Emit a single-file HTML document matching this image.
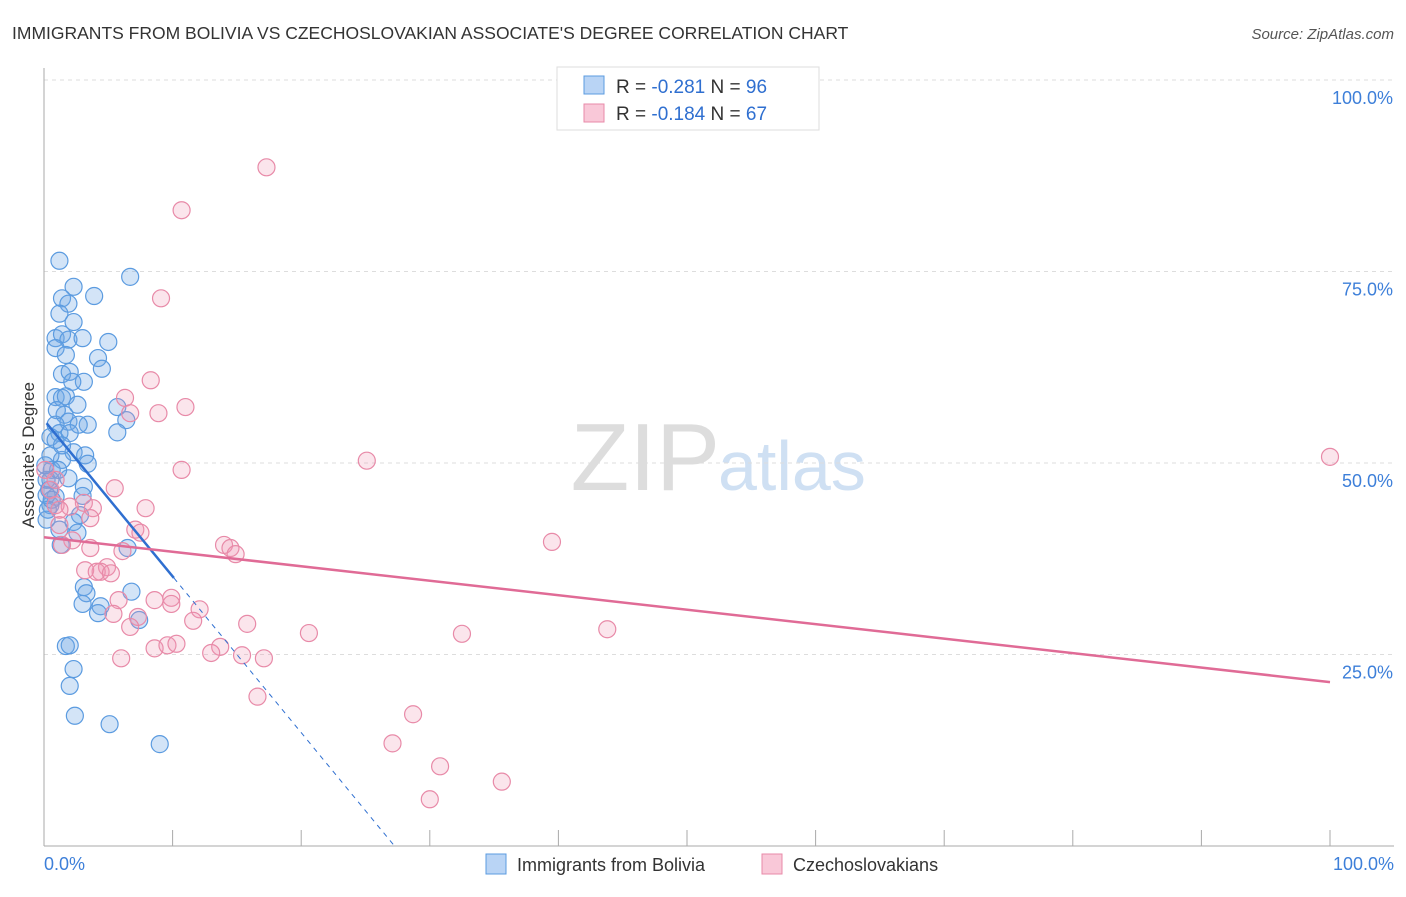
<!DOCTYPE html>
<html><head><meta charset="utf-8"><style>
body{margin:0;background:#fff;font-family:"Liberation Sans",sans-serif}
svg text{font-family:"Liberation Sans",sans-serif}
</style></head><body>
<svg id="chart" width="1406" height="892">
<text x="12" y="39" font-size="17.5" fill="#333">IMMIGRANTS FROM BOLIVIA VS CZECHOSLOVAKIAN ASSOCIATE'S DEGREE CORRELATION CHART</text>
<text x="1394" y="39" font-size="15" fill="#555" font-style="italic" text-anchor="end">Source: ZipAtlas.com</text>
<text x="720" y="490" font-size="96" fill="#ddd" text-anchor="end" font-family="Liberation Serif">ZIP</text>
<text x="718" y="490" font-size="70" fill="#cfe0f3">atlas</text>
<g id="grid"></g><g id="axes"></g><g id="pts"></g><g id="lines"></g>
<text transform="translate(34,455) rotate(-90)" font-size="17" fill="#333" text-anchor="middle">Associate's Degree</text>
<g>
<rect x="557" y="67" width="262" height="63" fill="#fff" stroke="#ddd"/>
<rect x="584" y="76" width="20" height="18" fill="#b9d4f5" stroke="#5b9be0"/>
<rect x="584" y="104" width="20" height="18" fill="#f9c8d8" stroke="#e88aa8"/>
<text x="616" y="93" font-size="19" fill="#333">R = <tspan fill="#2f6fd0">-0.281</tspan>   N = <tspan fill="#2f6fd0">96</tspan></text>
<text x="616" y="120" font-size="19" fill="#333">R = <tspan fill="#2f6fd0">-0.184</tspan>   N = <tspan fill="#2f6fd0">67</tspan></text>
</g>
<g>
<rect x="486" y="854" width="20" height="20" fill="#b9d4f5" stroke="#5b9be0"/>
<text x="517" y="871" font-size="18" fill="#333">Immigrants from Bolivia</text>
<rect x="762" y="854" width="20" height="20" fill="#f9c8d8" stroke="#e88aa8"/>
<text x="793" y="871" font-size="18" fill="#333">Czechoslovakians</text>
</g>
</svg>
<script>
const blueX=[1.2,6.7,2.3,1.4,3.9,1.9,1.2,2.3,0.9,1.4,1.9,3.0,5.0,0.9,1.7,4.2,4.5,1.4,2.0,3.1,2.2,5.7,0.9,1.4,1.7,2.6,1.6,1.0,1.9,6.4,5.7,0.9,3.4,2.7,1.2,2.0,0.5,0.9,2.3,3.2,1.4,0.5,3.4,0.6,0.5,1.9,0.4,3.1,0.9,3.0,0.5,2.8,2.3,2.6,1.3,6.5,3.1,3.3,3.0,6.8,4.4,4.2,7.4,1.7,2.0,2.3,2.0,2.4,5.1,9.0,0.2,0.2,0.3,0.2,0.6,1.1,1.4,0.1,1.2];
const blueY=[76.4,74.3,73.0,71.5,71.8,70.8,69.5,68.4,66.3,66.8,66.1,66.3,65.8,65.0,64.1,63.7,62.3,61.6,61.9,60.6,60.6,57.3,58.6,58.5,58.7,57.6,56.3,56.9,55.4,55.6,54.0,55.0,55.0,55.0,53.9,53.9,53.4,53.0,51.4,51.0,50.4,51.0,49.9,49.1,47.8,48.0,46.5,46.9,45.6,45.7,44.5,43.2,42.3,40.9,39.3,38.9,33.8,33.0,31.6,33.2,31.3,30.4,29.5,26.1,26.2,23.1,20.9,17.0,15.9,13.3,47.8,45.8,43.9,42.6,45.2,49.1,52.3,49.7,41.3];
const pinkX=[17.3,10.7,9.1,8.3,6.3,11.0,8.9,6.7,10.7,25.1,100,5.5,7.9,3.1,3.8,3.6,2.0,0.9,1.2,2.2,1.4,6.1,14.0,14.5,14.9,7.1,7.5,4.9,4.4,3.2,4.1,5.2,3.6,8.6,9.9,9.9,5.8,5.4,7.3,6.7,12.1,11.6,15.8,20.6,32.5,43.8,8.6,9.6,10.3,13.7,13.0,15.4,17.1,6.0,16.6,28.7,27.1,30.8,35.6,30.0,39.5,0.5,0.9,0.1,1.2];
const pinkY=[88.6,83.0,71.5,60.8,58.5,57.3,56.5,56.5,49.1,50.3,50.8,46.7,44.1,44.8,44.1,42.8,44.3,44.5,41.9,39.9,39.3,38.5,39.3,38.9,38.1,41.3,40.9,36.4,35.8,36.0,35.8,35.6,38.9,32.1,32.4,31.6,32.1,30.3,29.9,28.6,30.9,29.4,29.0,27.8,27.7,28.3,25.8,26.2,26.4,26.0,25.2,24.9,24.5,24.5,19.5,17.2,13.4,10.4,8.4,6.1,39.7,46.5,47.8,49.1,43.9];
const yTicks=[25,50,75,100];
const yTickLabels=["25.0%","50.0%","75.0%","100.0%"];
const blueTrend=[55.6,-2.04];
const blueSolidEnd=10.1;
const pinkTrend=[40.3,-0.189];
const NS="http://www.w3.org/2000/svg";
const sx=v=>44+v*12.86, sy=v=>846-v*7.66;
function mk(tag,attrs,parent){const e=document.createElementNS(NS,tag);for(const k in attrs)e.setAttribute(k,attrs[k]);document.getElementById(parent).appendChild(e);return e;}
yTicks.forEach((t,i)=>{
 const g=mk('line',{x1:44,x2:1394,y1:sy(t),y2:sy(t),stroke:'#ddd','stroke-dasharray':'4,4'},'grid');
 
 
 const l=mk('text',{x:1393,y:sy(t)+24,'font-size':18,fill:'#3d7fd9','text-anchor':'end'},'grid');
 l.textContent=yTickLabels[i];
 
 
});
let ax=mk('line',{x1:44,x2:44,y1:68,y2:846,stroke:'#aaa'},'axes');


ax=mk('line',{x1:44,x2:1394,y1:846,y2:846,stroke:'#aaa'},'axes');


for(let i=0;i<=10;i++){const t=mk('line',{x1:sx(i*10),x2:sx(i*10),y1:830,y2:846,stroke:'#aaa'},'axes');
 
 }
[[0,"0.0%","start",44],[100,"100.0%","end",1394]].forEach(d=>{const t=mk('text',{x:d[3],y:870,'font-size':18,fill:'#3d7fd9','text-anchor':d[2]},'axes');t.textContent=d[1];
 
 });
blueX.forEach((x,i)=>{const c=mk('circle',{cx:sx(x),cy:sy(blueY[i]),r:8.5,fill:'rgba(110,165,230,0.3)',stroke:'#5b9be0','stroke-width':1.2},'pts');
 
 });
pinkX.forEach((x,i)=>{const c=mk('circle',{cx:sx(x),cy:sy(pinkY[i]),r:8.5,fill:'rgba(240,150,180,0.25)',stroke:'#e88aa8','stroke-width':1.2},'pts');
 
 });
const bz=-blueTrend[0]/blueTrend[1];
let ln=mk('line',{x1:sx(0.2),y1:sy(blueTrend[0]+blueTrend[1]*0.2),x2:sx(blueSolidEnd),y2:sy(blueTrend[0]+blueTrend[1]*blueSolidEnd),stroke:'#2f6fd0','stroke-width':2.5},'lines');


ln=mk('line',{x1:sx(blueSolidEnd),y1:sy(blueTrend[0]+blueTrend[1]*blueSolidEnd),x2:sx(bz),y2:sy(0),stroke:'#2f6fd0','stroke-width':1,'stroke-dasharray':'5,5'},'lines');


ln=mk('line',{x1:sx(0),y1:sy(pinkTrend[0]),x2:sx(100),y2:sy(pinkTrend[0]+pinkTrend[1]*100),stroke:'#e06b96','stroke-width':2.5},'lines');


</script>
</body></html>
